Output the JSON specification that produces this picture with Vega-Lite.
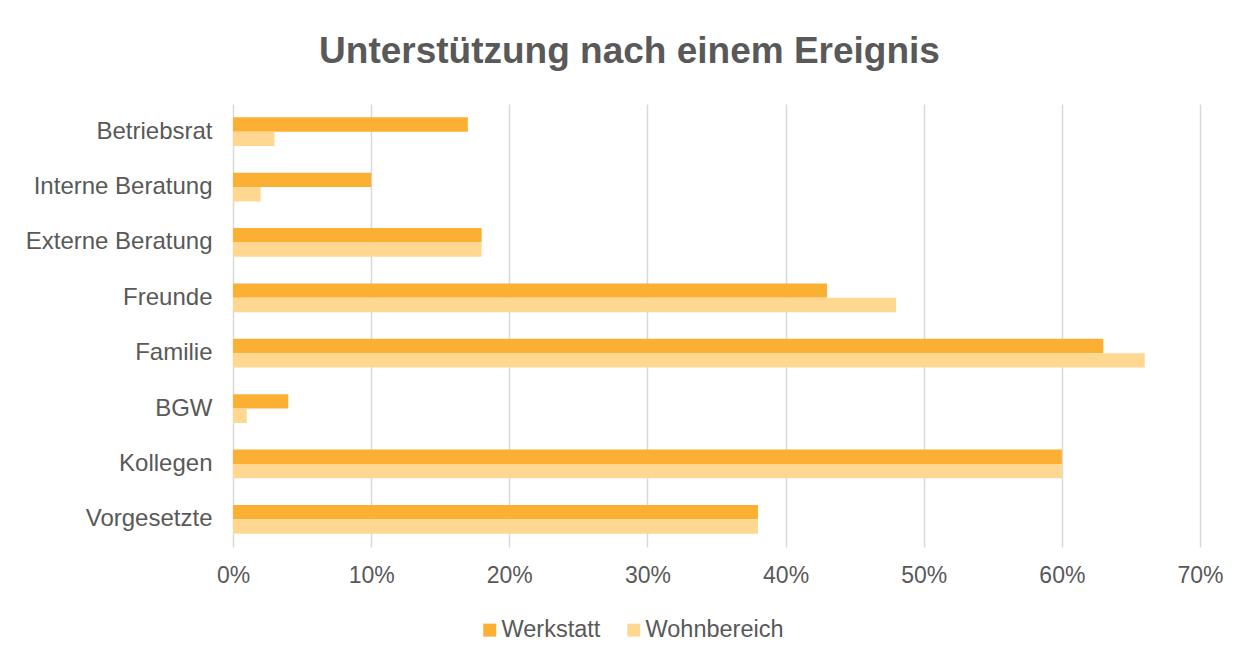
{
  "$schema": "https://vega.github.io/schema/vega-lite/v6.json",
  "width": 967,
  "height": 443,
  "autosize": {"type": "none"},
  "padding": {"left": 233, "top": 104, "right": 53, "bottom": 112},
  "background": "white",
  "title": {
    "text": "Unterstützung nach einem Ereignis",
    "font": "Liberation Sans",
    "fontSize": 37,
    "fontWeight": "bold",
    "color": "#595959",
    "anchor": "middle",
    "dx": -87,
    "offset": 33
  },
  "data": {
    "values": [
      {"kategorie": "Betriebsrat", "bereich": "Werkstatt", "anteil": 0.17},
      {"kategorie": "Betriebsrat", "bereich": "Wohnbereich", "anteil": 0.03},
      {"kategorie": "Interne Beratung", "bereich": "Werkstatt", "anteil": 0.10},
      {"kategorie": "Interne Beratung", "bereich": "Wohnbereich", "anteil": 0.02},
      {"kategorie": "Externe Beratung", "bereich": "Werkstatt", "anteil": 0.18},
      {"kategorie": "Externe Beratung", "bereich": "Wohnbereich", "anteil": 0.18},
      {"kategorie": "Freunde", "bereich": "Werkstatt", "anteil": 0.43},
      {"kategorie": "Freunde", "bereich": "Wohnbereich", "anteil": 0.48},
      {"kategorie": "Familie", "bereich": "Werkstatt", "anteil": 0.63},
      {"kategorie": "Familie", "bereich": "Wohnbereich", "anteil": 0.66},
      {"kategorie": "BGW", "bereich": "Werkstatt", "anteil": 0.04},
      {"kategorie": "BGW", "bereich": "Wohnbereich", "anteil": 0.01},
      {"kategorie": "Kollegen", "bereich": "Werkstatt", "anteil": 0.60},
      {"kategorie": "Kollegen", "bereich": "Wohnbereich", "anteil": 0.60},
      {"kategorie": "Vorgesetzte", "bereich": "Werkstatt", "anteil": 0.38},
      {"kategorie": "Vorgesetzte", "bereich": "Wohnbereich", "anteil": 0.38}
    ]
  },
  "mark": {"type": "bar"},
  "encoding": {
    "y": {
      "field": "kategorie",
      "type": "nominal",
      "sort": ["Betriebsrat", "Interne Beratung", "Externe Beratung", "Freunde", "Familie", "BGW", "Kollegen", "Vorgesetzte"],
      "scale": {"paddingInner": 0.48, "paddingOuter": 0.24},
      "axis": {
        "title": null,
        "domain": false,
        "ticks": false,
        "grid": false,
        "labelFont": "Liberation Sans",
        "labelFontSize": 24,
        "labelLimit": 400,
        "labelColor": "#595959",
        "labelPadding": 21
      }
    },
    "yOffset": {
      "field": "bereich",
      "type": "nominal",
      "sort": ["Werkstatt", "Wohnbereich"],
      "scale": {"paddingInner": 0, "paddingOuter": 0}
    },
    "x": {
      "field": "anteil",
      "type": "quantitative",
      "scale": {"domain": [0, 0.7], "nice": false},
      "axis": {
        "title": null,
        "format": ".0%",
        "values": [0, 0.1, 0.2, 0.3, 0.4, 0.5, 0.6, 0.7],
        "domain": false,
        "ticks": false,
        "grid": true,
        "gridColor": "#d9d9d9",
        "gridWidth": 1.5,
        "labelFlush": false,
        "labelFont": "Liberation Sans",
        "labelFontSize": 23,
        "labelColor": "#595959",
        "labelPadding": 17
      }
    },
    "color": {
      "field": "bereich",
      "type": "nominal",
      "sort": ["Werkstatt", "Wohnbereich"],
      "scale": {"domain": ["Werkstatt", "Wohnbereich"], "range": ["#FBB034", "#FED890"]},
      "legend": {
        "title": null,
        "orient": "none",
        "legendX": 245,
        "legendY": 514,
        "direction": "horizontal",
        "symbolType": "square",
        "symbolSize": 169,
        "symbolStrokeWidth": 0,
        "labelFont": "Liberation Sans",
        "labelFontSize": 23.5,
        "labelColor": "#595959",
        "labelOffset": 0,
        "columnPadding": 21
      }
    }
  },
  "config": {
    "view": {"stroke": null}
  }
}
